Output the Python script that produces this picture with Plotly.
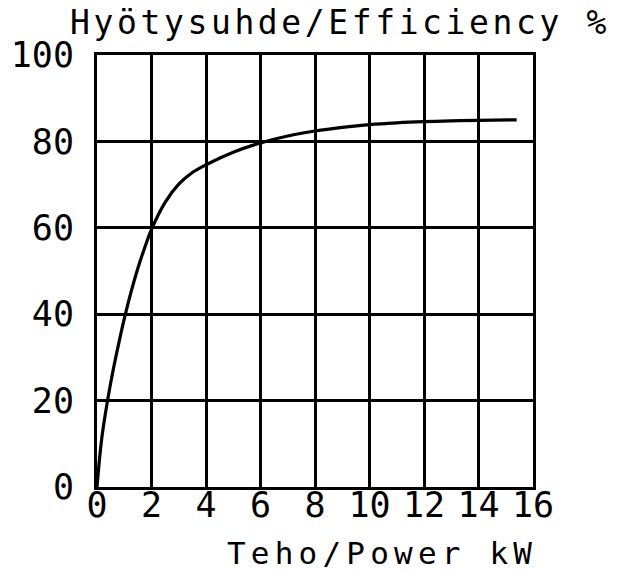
import plotly.graph_objects as go

power_kw = [0, 0.1, 0.2, 0.4, 0.6, 0.8, 1.0, 1.25, 1.5, 1.75, 2.0, 2.5, 3.0, 3.5, 4.0, 5.0, 6.0, 7.0, 8.0, 9.0, 10.0, 11.0, 12.0, 13.0, 14.0, 15.4]
efficiency = [0, 7, 12.5, 20.5, 27.3, 33.3, 38.9, 45.15, 50.65, 55.4, 59.65, 65.9, 70.1, 72.8, 74.6, 77.5, 79.65, 81.25, 82.4, 83.25, 83.9, 84.3, 84.57, 84.75, 84.87, 85.0]

x_ticks = [0, 2, 4, 6, 8, 10, 12, 14, 16]
x_tick_text = ["0", "2", "4", "6", "8", "10", "12", "14", "16"]
y_ticks = [0, 20, 40, 60, 80, 100]
y_tick_text = ["0", "20", "40", "60", "80", "100"]

title_text = "Hyötysuhde/Efficiency %"
xaxis_text = "Teho/Power kW"

FONT = "DejaVu Sans Mono"
W, H = 620, 572

fig = go.Figure()
fig.add_trace(go.Scatter(
    x=power_kw, y=efficiency, mode="lines",
    line=dict(color="black", width=3.2, shape="spline", smoothing=1.0),
    hoverinfo="skip", showlegend=False,
))

axis_common = dict(
    showline=True, linecolor="black", linewidth=3, mirror=True,
    showgrid=True, gridcolor="black", gridwidth=2.5,
    zeroline=False, ticks="", ticklen=0, automargin=False,
    tickfont=dict(family=FONT, size=35, color="black"),
)

fig.update_layout(
    width=W, height=H,
    margin=dict(l=97, r=87, t=55, b=85),
    paper_bgcolor="white", plot_bgcolor="white",
    xaxis=dict(range=[0, 16], tickvals=x_ticks, ticktext=x_tick_text,
               ticklabelstandoff=-15, **axis_common),
    yaxis=dict(range=[0, 100], tickvals=y_ticks, ticktext=y_tick_text,
               ticklabelstandoff=13, **axis_common),
    title=dict(
        text='<span style="letter-spacing:3.6px">' + title_text + '</span>',
        x=340 / W, xanchor="center", y=1 - 22 / H, yanchor="middle",
        xref="container", yref="container",
        font=dict(family=FONT, size=33, color="black"),
    ),
    annotations=[dict(
        text='<span style="letter-spacing:5.2px">' + xaxis_text + '</span>',
        xref="paper", yref="paper", x=(382 - 97) / 436, y=(487 - 553) / 432,
        xanchor="center", yanchor="middle", showarrow=False,
        font=dict(family=FONT, size=31, color="black"),
    )],
)

fig.write_html("out.html", config={"displayModeBar": False},
               post_script="document.body.style.margin='0';")
